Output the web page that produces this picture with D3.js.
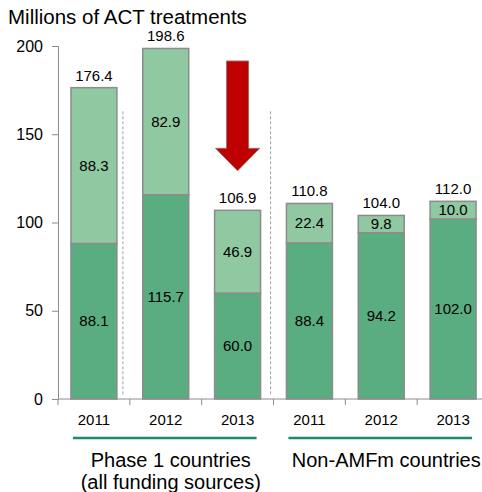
<!DOCTYPE html>
<html>
<head>
<meta charset="utf-8">
<script src="https://cdn.jsdelivr.net/npm/d3@7"></script>
<style>
  body { margin: 0; background: #fff; }
  svg text { font-family: "Liberation Sans", Arial, sans-serif; fill: #000; }
</style>
</head>
<body>
<div id="chart"></div>
<script>
// categories: two groups of three years
var years = ['2011', '2012', '2013', '2011', '2012', '2013'];
var keys = ['p1-2011', 'p1-2012', 'p1-2013', 'na-2011', 'na-2012', 'na-2013'];
var lowerValues = [88.1, 115.7, 60.0, 88.4, 94.2, 102.0];
var upperValues = [88.3, 82.9, 46.9, 22.4, 9.8, 10.0];
var totalValues = [176.4, 198.6, 106.9, 110.8, 104.0, 112.0];
var yTicks = [0, 50, 100, 150, 200];
var groupLabels = [
    { from: 0, to: 2, lines: ['Phase 1 countries', '(all funding sources)'] },
    { from: 3, to: 5, lines: ['Non-AMFm countries'] }
];

var OuterWidth = 482;
var OuterHeight = 492;

var svg = d3.select('#chart').append('svg')
    .attr('width', OuterWidth)
    .attr('height', OuterHeight);

var xScale = d3.scaleBand()
    .domain(keys)
    .range([58, 489])
    .paddingInner(0.36)
    .paddingOuter(0.18);

var yScale = d3.scaleLinear()
    .domain([0, 200])
    .range([399, 46]);

var darkGreen = '#5aad81';
var lightGreen = '#90c8a2';
var barStroke = '#8c8c8c';

// title
svg.append('text')
    .attr('x', 8)
    .attr('y', 24)
    .style('font-size', '20.5px')
    .text('Millions of ACT treatments');

// y axis
var yAxisG = svg.append('g')
    .attr('transform', 'translate(58,0)')
    .call(d3.axisLeft(yScale).tickValues(yTicks).tickSize(6).tickPadding(9));
yAxisG.select('.domain').attr('stroke', '#8c8c8c');
yAxisG.selectAll('.tick line').attr('stroke', '#8c8c8c');
yAxisG.selectAll('.tick text')
    .style('font-size', '16px')
    .style('font-family', '"Liberation Sans", Arial, sans-serif');

// dashed separators
var step = xScale.step();
[0, 2].forEach(function (i) {
    var xs = i === 0
        ? xScale(keys[0]) + xScale.bandwidth() + 6
        : xScale(keys[2]) + xScale.bandwidth() + 10;
    svg.append('line')
        .attr('x1', xs).attr('x2', xs)
        .attr('y1', yScale(163)).attr('y2', yScale(2))
        .attr('stroke', '#a0a0a0')
        .attr('stroke-width', 1)
        .attr('stroke-dasharray', '3,2');
});

// bars
var bars = svg.append('g');
bars.selectAll('.lower')
    .data(keys)
    .enter()
    .append('rect')
    .attr('x', function (d) { return xScale(d); })
    .attr('y', function (d, i) { return yScale(lowerValues[i]); })
    .attr('width', xScale.bandwidth())
    .attr('height', function (d, i) { return yScale(0) - yScale(lowerValues[i]); })
    .attr('fill', darkGreen)
    .attr('stroke', barStroke)
    .attr('stroke-width', 1.5);

bars.selectAll('.upper')
    .data(keys)
    .enter()
    .append('rect')
    .attr('x', function (d) { return xScale(d); })
    .attr('y', function (d, i) { return yScale(lowerValues[i] + upperValues[i]); })
    .attr('width', xScale.bandwidth())
    .attr('height', function (d, i) { return yScale(lowerValues[i]) - yScale(lowerValues[i] + upperValues[i]); })
    .attr('fill', lightGreen)
    .attr('stroke', barStroke)
    .attr('stroke-width', 1.5);

// x axis line and ticks
svg.append('line')
    .attr('x1', 58).attr('x2', 489)
    .attr('y1', yScale(0)).attr('y2', yScale(0))
    .attr('stroke', '#8c8c8c');
svg.selectAll('.xtick')
    .data(keys)
    .enter()
    .append('line')
    .attr('x1', function (d) { return xScale(d) - step * 0.18; })
    .attr('x2', function (d) { return xScale(d) - step * 0.18; })
    .attr('y1', yScale(0)).attr('y2', yScale(0) + 6)
    .attr('stroke', '#8c8c8c');

var labelFont = '15px';
function cx(d) { return xScale(d) + xScale.bandwidth() / 2; }

// segment labels
svg.selectAll('.lowerLabel')
    .data(keys)
    .enter()
    .append('text')
    .attr('x', cx)
    .attr('y', function (d, i) { return yScale(lowerValues[i] / 2) + 5; })
    .attr('text-anchor', 'middle')
    .style('font-size', labelFont)
    .text(function (d, i) { return lowerValues[i].toFixed(1); });

svg.selectAll('.upperLabel')
    .data(keys)
    .enter()
    .append('text')
    .attr('x', cx)
    .attr('y', function (d, i) { return yScale(lowerValues[i] + upperValues[i] / 2) + 5; })
    .attr('text-anchor', 'middle')
    .style('font-size', labelFont)
    .text(function (d, i) { return upperValues[i].toFixed(1); });

svg.selectAll('.totalLabel')
    .data(keys)
    .enter()
    .append('text')
    .attr('x', cx)
    .attr('y', function (d, i) { return yScale(totalValues[i]) - 7; })
    .attr('text-anchor', 'middle')
    .style('font-size', labelFont)
    .text(function (d, i) { return totalValues[i].toFixed(1); });

// year labels
svg.selectAll('.yearLabel')
    .data(keys)
    .enter()
    .append('text')
    .attr('x', cx)
    .attr('y', 425)
    .attr('text-anchor', 'middle')
    .style('font-size', labelFont)
    .text(function (d, i) { return years[i]; });

// group underlines + labels
groupLabels.forEach(function (g) {
    var x1 = xScale(keys[g.from]) + 2;
    var x2 = xScale(keys[g.to]) + xScale.bandwidth() - 4;
    svg.append('line')
        .attr('x1', x1).attr('x2', x2)
        .attr('y1', 438).attr('y2', 438)
        .attr('stroke', '#1f8a68')
        .attr('stroke-width', 2.5);
    g.lines.forEach(function (t, j) {
        svg.append('text')
            .attr('x', (x1 + x2) / 2 + 6)
            .attr('y', 467 + j * 22)
            .attr('text-anchor', 'middle')
            .style('font-size', '20px')
            .text(t);
    });
});

// red arrow over 2013
var ax = cx(keys[2]);
var shaftHalf = 11;
var headHalf = 22;
var arrowPts = [
    [ax - shaftHalf, yScale(191.5)],
    [ax + shaftHalf, yScale(191.5)],
    [ax + shaftHalf, yScale(142)],
    [ax + headHalf, yScale(142)],
    [ax, yScale(129.3)],
    [ax - headHalf, yScale(142)],
    [ax - shaftHalf, yScale(142)]
];
svg.append('polygon')
    .attr('points', arrowPts.map(function (p) { return p.join(','); }).join(' '))
    .attr('fill', '#c00000')
    .attr('stroke', '#9a6a6a')
    .attr('stroke-width', 1);
</script>
</body>
</html>
